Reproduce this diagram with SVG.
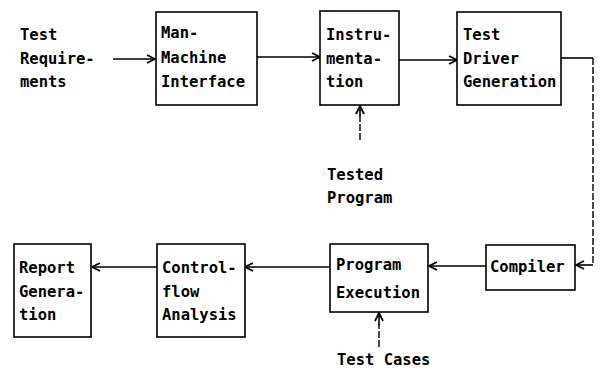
<svg xmlns="http://www.w3.org/2000/svg" width="600" height="370" viewBox="0 0 600 370">
<defs>
<style>
.box{fill:#fff;stroke:#000;stroke-width:1.6}
.t{font-family:"DejaVu Sans Mono","Liberation Mono",monospace;font-weight:bold;font-size:15.5px;fill:#000}
.c{fill:none;stroke:#000;stroke-width:1.6}
.d{fill:none;stroke:#000;stroke-width:1.4;stroke-dasharray:7 2}
</style>
<marker id="ah" viewBox="0 0 10 10" refX="9" refY="5" markerWidth="10" markerHeight="10" markerUnits="userSpaceOnUse" orient="auto">
<path d="M1,1 L9,5 L1,9" fill="none" stroke="#000" stroke-width="1.8"/>
</marker>
</defs>
<rect width="600" height="370" fill="#fff"/>
<g id="connectors">
<line class="c" x1="113" y1="59" x2="155" y2="59" marker-end="url(#ah)"/>
<line class="c" x1="257" y1="57" x2="320" y2="57" marker-end="url(#ah)"/>
<line class="c" x1="399" y1="60" x2="457" y2="60" marker-end="url(#ah)"/>
<line class="d" x1="360" y1="140" x2="360" y2="115"/>
<line class="c" x1="360" y1="116" x2="360" y2="106" marker-end="url(#ah)"/>
<path class="c" d="M561,58 L593,58"/>
<path class="d" d="M593,58 L593,265"/>
<line class="c" x1="593" y1="265" x2="576" y2="265" marker-end="url(#ah)"/>
<line class="c" x1="486" y1="266" x2="429" y2="266" marker-end="url(#ah)"/>
<line class="c" x1="330" y1="267" x2="245" y2="267" marker-end="url(#ah)"/>
<line class="c" x1="157" y1="267" x2="92" y2="267" marker-end="url(#ah)"/>
<line class="d" x1="379" y1="347" x2="379" y2="324"/>
<line class="c" x1="379" y1="325" x2="379" y2="313" marker-end="url(#ah)"/>
</g>
<g id="test-requirements">
<text class="t" x="20" y="40">Test</text>
<text class="t" x="20" y="64">Require-</text>
<text class="t" x="20" y="87">ments</text>
</g>
<g id="man-machine">
<rect class="box" x="156" y="12" width="101" height="93"/>
<text class="t" x="161" y="38">Man-</text>
<text class="t" x="161" y="63">Machine</text>
<text class="t" x="161" y="87">Interface</text>
</g>
<g id="instrumentation">
<rect class="box" x="320" y="11" width="79" height="94"/>
<text class="t" x="326" y="40">Instru-</text>
<text class="t" x="326" y="64">menta-</text>
<text class="t" x="326" y="87">tion</text>
</g>
<g id="test-driver">
<rect class="box" x="457" y="12" width="104" height="93"/>
<text class="t" x="463" y="40">Test</text>
<text class="t" x="463" y="64">Driver</text>
<text class="t" x="463" y="87">Generation</text>
</g>
<g id="tested-program">
<text class="t" x="327" y="180">Tested</text>
<text class="t" x="327" y="203">Program</text>
</g>
<g id="compiler">
<rect class="box" x="486" y="245" width="89" height="45"/>
<text class="t" x="490" y="272">Compiler</text>
</g>
<g id="program-execution">
<rect class="box" x="330" y="244" width="98" height="68"/>
<text class="t" x="336" y="270">Program</text>
<text class="t" x="336" y="298">Execution</text>
</g>
<g id="control-flow">
<rect class="box" x="157" y="244" width="88" height="93"/>
<text class="t" x="162" y="273">Control-</text>
<text class="t" x="162" y="297">flow</text>
<text class="t" x="162" y="320">Analysis</text>
</g>
<g id="report-generation">
<rect class="box" x="14" y="244" width="77" height="93"/>
<text class="t" x="19" y="273">Report</text>
<text class="t" x="19" y="297">Genera-</text>
<text class="t" x="19" y="320">tion</text>
</g>
<g id="test-cases">
<text class="t" x="337" y="365">Test Cases</text>
</g>
</svg>
